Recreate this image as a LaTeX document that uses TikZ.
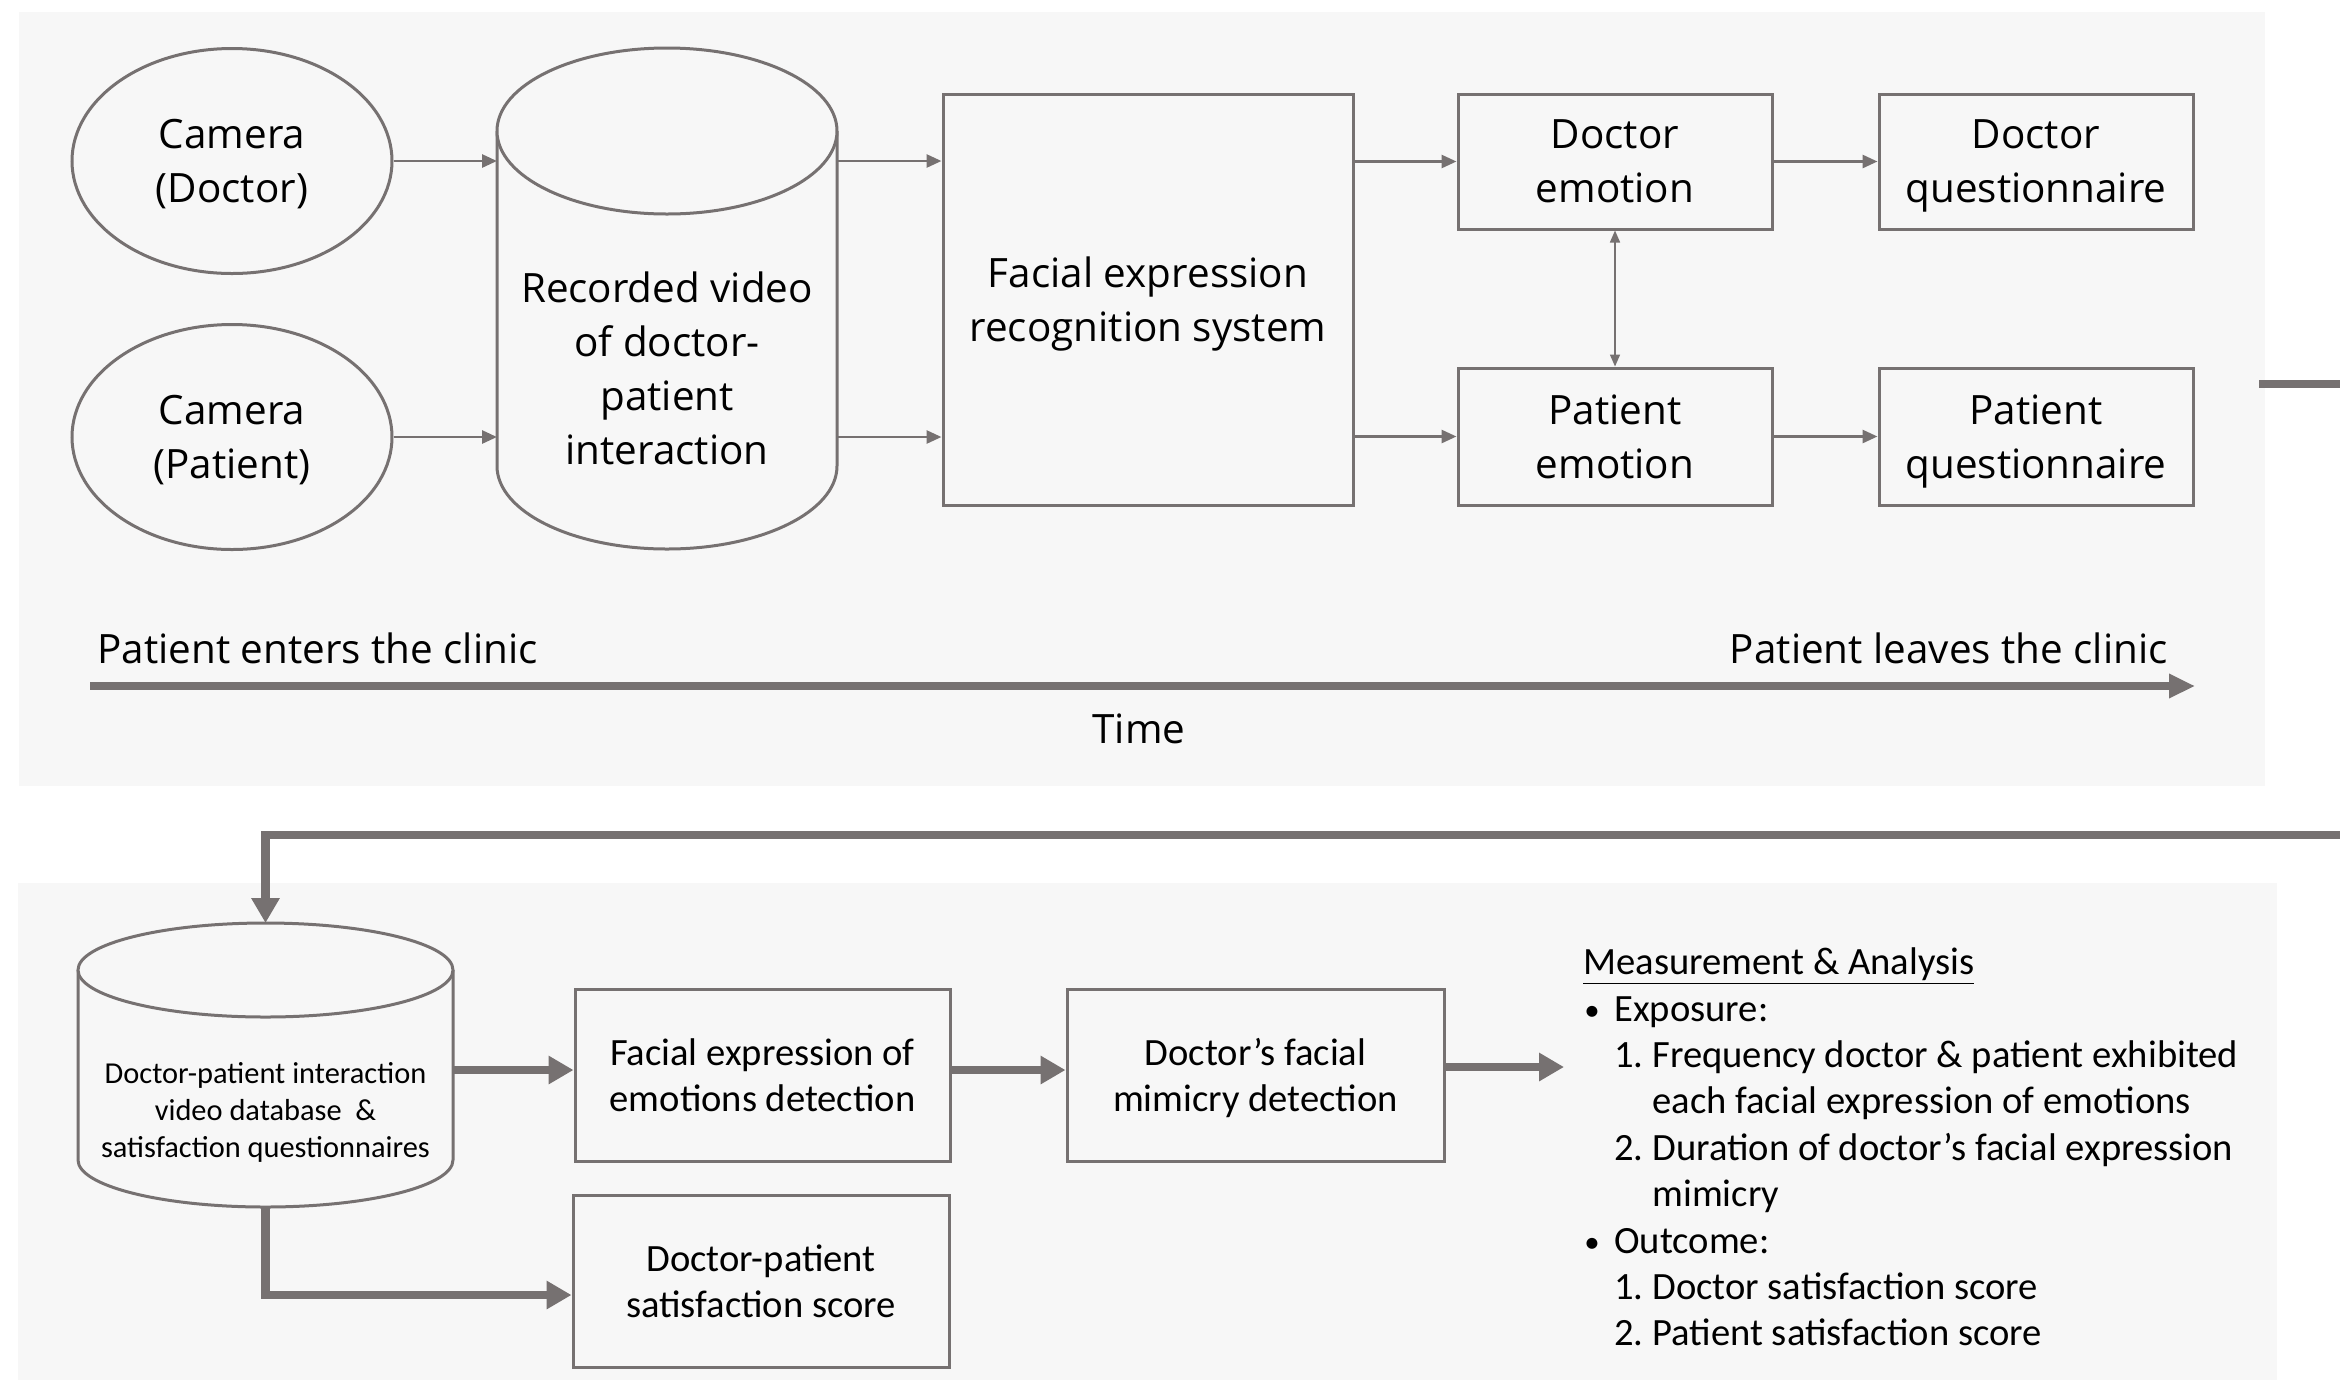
\documentclass[tikz,border=0pt]{standalone}
\usepackage{fontspec}
\setmainfont{Carlito}
\newfontfamily\topfont{Open Sans}
\usetikzlibrary{arrows.meta,shapes.geometric}
\definecolor{linec}{HTML}{767171}
\definecolor{panel}{HTML}{F7F7F7}
\newcommand{\mybul}{\raisebox{0.5pt}{\scalebox{0.8}{\textbullet}}}
\begin{document}
\begin{tikzpicture}[x=0.5pt,y=-0.5pt,
  topfnt/.style={font=\topfont\fontsize{20.2}{27}\selectfont},
  botfnt/.style={font=\fontsize{19.3}{23.2}\selectfont},
  topbox/.style={draw=linec,line width=1.5pt,fill=panel,inner sep=0pt,align=center,topfnt,text depth=0pt},
  botbox/.style={draw=linec,line width=1.5pt,fill=panel,inner sep=0pt,align=center,botfnt,text depth=0pt,
                 minimum width=187.5pt,minimum height=86pt},
  camst/.style={ellipse,draw=linec,line width=1.5pt,fill=panel,inner sep=0pt,align=center,topfnt,text depth=0pt,
                minimum width=160pt,minimum height=112.5pt},
  cylst/.style={draw=linec,line width=1.5pt,fill=panel},
  holder/.style={inner sep=0pt,outer sep=0pt},
  tarr/.style={draw=linec,line width=1.4pt,-{Triangle[length=7.5pt,width=6.5pt]}},
  darr/.style={draw=linec,line width=0.8pt,{Triangle[length=6pt,width=5pt]}-{Triangle[length=6pt,width=5pt]}},
  tline/.style={draw=linec,line width=3.8pt,-{Triangle[length=13pt,width=11.5pt]}},
  thickl/.style={draw=linec,line width=4.3pt},
  thicka/.style={draw=linec,line width=4.3pt,-{Triangle[length=12.5pt,width=13.5pt]}}
]
\useasboundingbox (0,0) rectangle (2340,1383);
\fill[white] (0,0) rectangle (2340,1383);
\fill[panel] (19,12) rectangle (2265,786);
\fill[panel] (18,883) rectangle (2277,1380);

% ---------- top panel ----------
\node[camst] (cam1) at (232,161) {Camera\\(Doctor)};
\node[camst] (cam2) at (232,437) {Camera\\(Patient)};

\node[holder,minimum width=170pt,minimum height=250.5pt] (rec) at (667,298.5) {};
\draw[cylst] ([yshift=-41.5pt]rec.north west) -- ([yshift=41.5pt]rec.south west)
   arc[start angle=180,end angle=360,x radius=85pt,y radius=41.5pt]
   -- ([yshift=-41.5pt]rec.north east);
\draw[cylst] ([yshift=-41.5pt]rec.north) ellipse[x radius=85pt,y radius=41.5pt];
\node[topfnt,align=center,inner sep=0pt,text depth=0pt] (rect) at (667,368) {Recorded video\\of doctor-\\patient\\interaction};

\node[topbox,minimum width=205pt,minimum height=205.5pt] (fer) at (1148,299.5) {Facial expression\\recognition system};
\node[topbox,minimum width=157pt,minimum height=67.5pt] (demo) at (1615,161.5) {Doctor\\emotion};
\node[topbox,minimum width=157pt,minimum height=67.5pt] (dq) at (2036,161.5) {Doctor\\questionnaire};
\node[topbox,minimum width=157pt,minimum height=68.5pt] (pemo) at (1615,436.5) {Patient\\emotion};
\node[topbox,minimum width=157pt,minimum height=68.5pt] (pq) at (2036,436.5) {Patient\\questionnaire};

\draw[tarr] (cam1.east) -- (cam1.east -| rec.west);
\draw[tarr] (cam2.east) -- (cam2.east -| rec.west);
\draw[tarr] (cam1.east -| rec.east) -- (cam1.east -| fer.west);
\draw[tarr] (cam2.east -| rec.east) -- (cam2.east -| fer.west);
\draw[tarr] (demo.west -| fer.east) -- (demo.west);
\draw[tarr] (pemo.west -| fer.east) -- (pemo.west);
\draw[tarr] (demo) -- (dq);
\draw[tarr] (pemo) -- (pq);
\draw[darr] (demo) -- (pemo);

\coordinate (tl0) at (90,686);
\coordinate (tl1) at (2195,686);
\draw[tline] (tl0) -- (tl1);
\node[topfnt,anchor=base west,inner sep=0pt] (enter) at (97,663) {Patient enters the clinic};
\node[topfnt,anchor=base east,inner sep=0pt] (leave) at (2168,663) {Patient leaves the clinic};
\node[topfnt,inner sep=0pt] (time) at (1139,729) {Time};

% ---------- connector between panels ----------
\coordinate (stubA) at (2259,384);
\coordinate (stubB) at (2350,384);
\draw[thickl] (stubA) -- (stubB);

% ---------- bottom panel ----------
\node[holder,minimum width=187.5pt,minimum height=142pt] (db) at (265.5,1065) {};
\draw[cylst] ([yshift=-23.5pt]db.north west) -- ([yshift=23.5pt]db.south west)
   arc[start angle=180,end angle=360,x radius=93.75pt,y radius=23.5pt]
   -- ([yshift=-23.5pt]db.north east);
\draw[cylst] ([yshift=-23.5pt]db.north) ellipse[x radius=93.75pt,y radius=23.5pt];
\node[font=\fontsize{15.2}{18.3}\selectfont,align=center,inner sep=0pt,text depth=0pt] (dbt) at (265.5,1110)
  {Doctor-patient interaction\\video database \ \&\\satisfaction questionnaires};

\node[botbox] (feed) at (762.5,1075) {Facial expression of\\emotions detection};
\node[botbox,minimum width=188pt] (sat) at (761,1281) {Doctor-patient\\satisfaction score};
\node[botbox,minimum width=188.5pt] (mim) at (1255.5,1075) {Doctor’s facial\\mimicry detection};

\node[botfnt,align=left,anchor=west,inner xsep=9.5pt,inner ysep=0pt] (meas) at (1564,1147) {%
\underline{Measurement \& Analysis}\\
\hspace*{0.5pt}\makebox[15pt][l]{\mybul}Exposure:\\
\hspace*{15.5pt}\makebox[19pt][l]{1.}Frequency doctor \& patient exhibited\\
\hspace*{34.5pt}each facial expression of emotions\\
\hspace*{15.5pt}\makebox[19pt][l]{2.}Duration of doctor’s facial expression\\
\hspace*{34.5pt}mimicry\\
\hspace*{0.5pt}\makebox[15pt][l]{\mybul}Outcome:\\
\hspace*{15.5pt}\makebox[19pt][l]{1.}Doctor satisfaction score\\
\hspace*{15.5pt}\makebox[19pt][l]{2.}Patient satisfaction score};

\coordinate (loopR) at (2350,835);
\draw[thicka] (loopR) -| (db.north);
\draw[thicka] ([yshift=2.5pt]feed.west -| db.east) -- ([yshift=2.5pt]feed.west);
\draw[thicka] (db.south) |- ([yshift=-7pt]sat.west);
\draw[thicka] ([yshift=2.5pt]feed.east) -- ([yshift=2.5pt]mim.west);
\draw[thicka] ([yshift=4pt]mim.east) -- ([yshift=4pt]mim.east -| meas.west);
\end{tikzpicture}
\end{document}
